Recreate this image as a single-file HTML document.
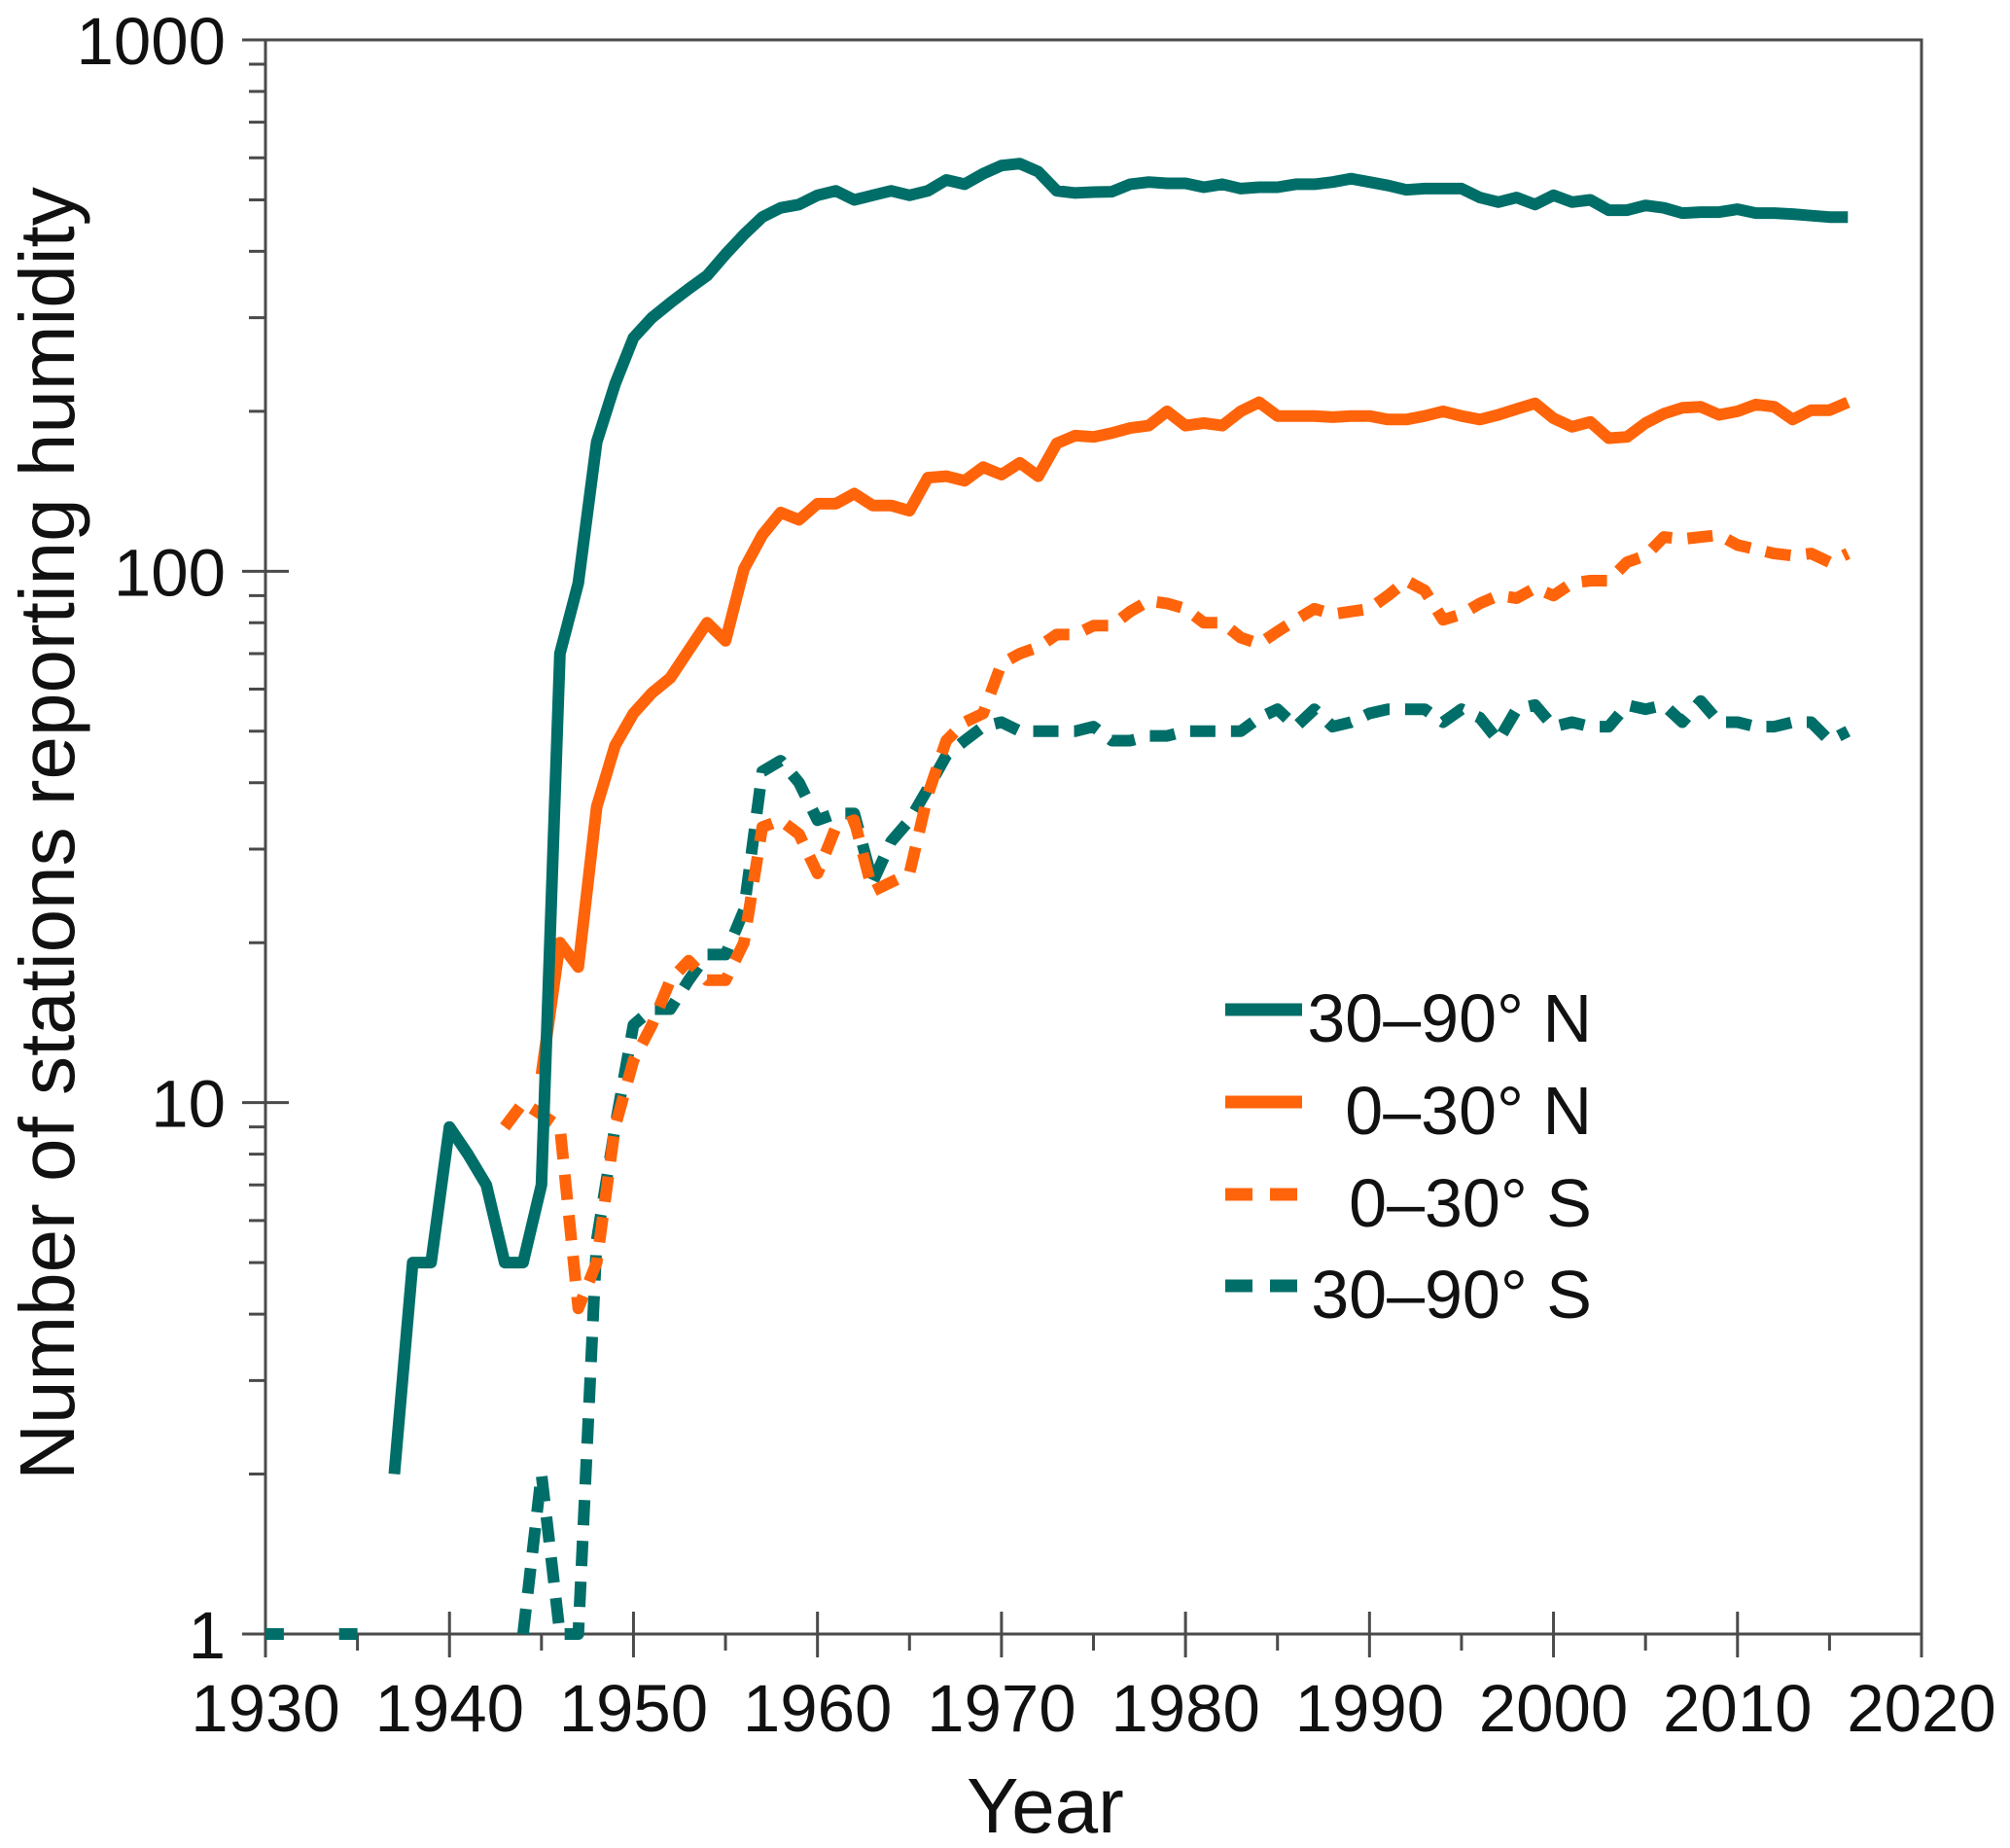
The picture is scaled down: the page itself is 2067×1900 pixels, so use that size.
<!DOCTYPE html>
<html><head><meta charset="utf-8"><style>
html,body{margin:0;padding:0;background:#fff;}
svg{display:block;font-family:"Liberation Sans",sans-serif;}
</style></head><body>
<svg id="chart" width="2067" height="1900" viewBox="0 0 2067 1900">
<rect x="0" y="0" width="2067" height="1900" fill="#fff"/>
<g id="axes"></g>
<g id="series"></g>
<text x="1075" y="1884" font-size="80" text-anchor="middle" fill="#111">Year</text>
<text transform="translate(76,857) rotate(-90)" font-size="80" text-anchor="middle" fill="#111">Number of stations reporting humidity</text>
<g id="legend"></g>
</svg>
<script>
const years = [];
for (let y = 1930; y <= 2016; y++) years.push(y);
const xTicks = [1930,1940,1950,1960,1970,1980,1990,2000,2010,2020];
const yTicks = [1,10,100,1000];
const yTickLabels = ["1","10","100","1000"];
const seriesNames = ["30–90° N","0–30° N","0–30° S","30–90° S"];
const n30_90 = {start:1937, values:[2,5,5,9,8,7,5,5,7,70,95,175,225,275,300,320,340,360,395,430,464,483,490,510,520,500,510,520,510,520,545,535,560,580,585,565,520,515,517,518,535,540,537,537,528,535,525,528,528,535,535,540,548,540,532,522,525,525,525,505,495,505,490,510,495,500,478,478,488,483,472,474,474,480,472,472,470,467,464,464]};
const n0_30 = {start:1945, values:[11.3,20,18,36,47,54,59,63,71,80,74,101,117,129,125,134,134,140,133,133,130,150,151,148,157,152,160,151,174,180,179,182,186,188,200,188,190,188,200,208,196,196,196,195,196,196,193,193,196,200,196,193,197,202,207,194,187,191,178,179,190,198,203,204,197,200,206,204,193,201,201,208]};
const s0_30 = {start:1943, values:[9,10,9.5,9,4.1,5,9,12,14,17,18.5,17,17,20,33,34,32,27,33,34,25,26,27,38,48,52,54,67,70,72,76,76,79,79,84,88,87,85,80,80,75,73,77,81,85,83,84,85,90,96,92,81,83,87,90,89,93,90,95,96,96,104,107,116,115,116,117,112,110,108,107,108,104,108]};
const s30_90 = {start:1930, values:[1,1,null,null,1,1,null,null,null,null,null,null,null,null,1,2,1,1,5.5,9,14,15,15,17,19,19,23,42,44,40,34,35,35,26,31,34,39,45,48,51,52,50,50,50,50,51,48,48,49,49,50,50,50,50,53,55,51,55,51,52,54,55,55,55,52,55,53,48,55,56,51,52,51,51,56,55,56,52,57,52,52,51,51,52,52,48,50]};

const L=273,R=1976,T=41,B=1680;
const xS = y => L + (y-1930)/(2020-1930)*(R-L);
const yS = v => B - Math.log10(v)/3*(B-T);
const NS="http://www.w3.org/2000/svg";
function mk(tag, attrs, parent){const e=document.createElementNS(NS,tag);for(const k in attrs)e.setAttribute(k,attrs[k]);parent.appendChild(e);return e;}
const axes=document.getElementById('axes');
const AX="#4a4a4a";
let frame=mk('rect',{x:L,y:T,width:R-L,height:B-T,fill:'none',stroke:AX,'stroke-width':3},axes);


for(let d=0; d<3; d++){
  for(let m=2;m<=9;m++){
    const v=Math.pow(10,d)*m;
    const t=mk('line',{x1:256,x2:L,y1:yS(v),y2:yS(v),stroke:AX,'stroke-width':3},axes);
    
    
  }
}
yTicks.forEach((v,i)=>{
  const t=mk('line',{x1:249,x2:297,y1:yS(v),y2:yS(v),stroke:AX,'stroke-width':3},axes);
  
  
  const tx=mk('text',{x:232,y:yS(v)+25,'font-size':69,'text-anchor':'end',fill:'#111'},axes);
  tx.textContent=yTickLabels[i];
  
  
});
xTicks.forEach(y=>{
  const t=mk('line',{x1:xS(y),x2:xS(y),y1:1657,y2:1704,stroke:AX,'stroke-width':3},axes);
  
  
  const tx=mk('text',{x:xS(y),y:1780,'font-size':69,'text-anchor':'middle',fill:'#111'},axes);
  tx.textContent=String(y);
  
  
  if(y<2020){
    const m=mk('line',{x1:xS(y+5),x2:xS(y+5),y1:B,y2:1697,stroke:AX,'stroke-width':3},axes);
    
    
  }
});
const TEAL="#006e68",ORANGE="#ff640a";
const styles=[
  {data:n30_90,color:TEAL,dash:null,name:'series-30-90n'},
  {data:n0_30,color:ORANGE,dash:null,name:'series-0-30n'},
  {data:s0_30,color:ORANGE,dash:'26 16',name:'series-0-30s'},
  {data:s30_90,color:TEAL,dash:'26 16',name:'series-30-90s'}
];
const sg=document.getElementById('series');
[3,2,1,0].forEach(i=>{
  const s=styles[i];
  let d='',pen=false;
  s.data.values.forEach((v,j)=>{
    if(v==null){pen=false;return;}
    const x=xS(s.data.start+j),y=yS(v);
    d+=(pen?'L':'M')+x.toFixed(1)+' '+y.toFixed(1);
    pen=true;
  });
  const a={d:d,fill:'none',stroke:s.color,'stroke-width':12,'stroke-linejoin':'round'};
  if(s.dash)a['stroke-dasharray']=s.dash;
  const p=mk('path',a,sg);
  
  
});
const lg=document.getElementById('legend');
const ly=[1038,1133,1228,1322];
styles.forEach((s,i)=>{
  const a={x1:1260,x2:1339,y1:ly[i],y2:ly[i],stroke:s.color,'stroke-width':13};
  if(s.dash)a['stroke-dasharray']='28 18';
  const l=mk('line',a,lg);
  
  
  const t=mk('text',{x:1637,y:ly[i]+33,'font-size':70,'text-anchor':'end',fill:'#111'},lg);
  t.textContent=seriesNames[i];
  
  
});
</script>
</body></html>
